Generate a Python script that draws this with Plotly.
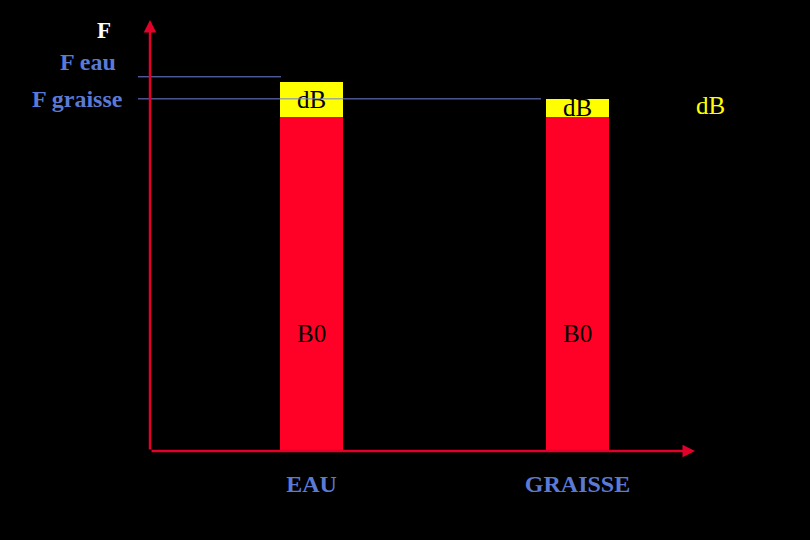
import plotly.graph_objects as go

categories = ["EAU", "GRAISSE"]
b0_values = [10.0, 10.0]
db_values = [1.05, 0.54]
b0_labels = ["B0", "B0"]
db_labels = ["dB", "dB"]
f_names = ["F eau", "F graisse"]
f_levels = [11.2, 10.54]

RED = "#FF0026"
AXIS_RED = "#E3002A"
YELLOW = "#FFFF00"
BLUE = "#5B7AD6"
LINE_BLUE = "#7080D8"
FONT = "Liberation Serif"

x_pos = list(range(len(categories)))

fig = go.Figure()
fig.add_trace(go.Bar(x=x_pos, y=b0_values, marker=dict(color=RED, line=dict(width=0)),
                     width=0.237, hoverinfo="skip"))
fig.add_trace(go.Bar(x=x_pos, y=db_values, marker=dict(color=YELLOW, line=dict(width=0)),
                     width=0.237, text=db_labels, textposition="inside",
                     insidetextanchor="middle", constraintext="none", textangle=0,
                     insidetextfont=dict(family=FONT, size=25, color="black"),
                     hoverinfo="skip"))

xr = [-0.607, 1.4417]
yr = [0, 12.9]

def px2paper(px):
    return (px - 150) / 545.0

# B0 labels
for xi, lab, v in zip(x_pos, b0_labels, b0_values):
    fig.add_annotation(x=xi, y=v * 0.353, text=lab, showarrow=False,
                       font=dict(family=FONT, size=25, color="black"))

# level lines
line_ends = [px2paper(281), px2paper(541)]
for lvl, x1 in zip(f_levels, line_ends):
    fig.add_shape(type="line", xref="paper", yref="y", x0=px2paper(138), x1=x1,
                  y0=lvl, y1=lvl, line=dict(color=LINE_BLUE, width=1))

# left labels
fig.add_annotation(xref="paper", yref="paper", x=px2paper(113), y=(451 - 30) / 431.0,
                   text="<b>F</b>", showarrow=False, xanchor="right", yanchor="middle",
                   font=dict(family=FONT, size=23, color="white"))
fig.add_annotation(xref="paper", yref="y", x=px2paper(118), y=(451 - 62) / 33.4,
                   text="<b>" + f_names[0] + "</b>", showarrow=False, xanchor="right",
                   yanchor="middle", font=dict(family=FONT, size=24, color=BLUE))
fig.add_annotation(xref="paper", yref="y", x=px2paper(125), y=f_levels[1],
                   text="<b>" + f_names[1] + "</b>", showarrow=False, xanchor="right",
                   yanchor="middle", font=dict(family=FONT, size=24, color=BLUE))

# right dB label
fig.add_annotation(xref="paper", yref="paper", x=px2paper(710), y=(451 - 106) / 431.0,
                   text="dB", showarrow=False, xanchor="center", yanchor="middle",
                   font=dict(family=FONT, size=25, color=YELLOW))

# axis arrows
fig.add_annotation(xref="paper", yref="paper", x=0, y=1, ax=0, ay=431,
                   axref="pixel", ayref="pixel", text="", showarrow=True,
                   arrowhead=2, arrowsize=1, arrowwidth=2.5, arrowcolor=AXIS_RED)
fig.add_annotation(xref="paper", yref="paper", x=1, y=0, ax=-545, ay=0,
                   axref="pixel", ayref="pixel", text="", showarrow=True,
                   arrowhead=2, arrowsize=1, arrowwidth=2.5, arrowcolor=AXIS_RED)

fig.update_layout(
    width=810, height=540,
    margin=dict(l=150, r=115, t=20, b=89),
    paper_bgcolor="black", plot_bgcolor="black",
    barmode="stack", showlegend=False,
    xaxis=dict(range=xr, tickvals=x_pos, ticktext=["<b>" + c + "</b>" for c in categories],
               showgrid=False, zeroline=False, showline=False, ticks="",
               tickfont=dict(family=FONT, size=24, color=BLUE), ticklabelstandoff=16),
    yaxis=dict(range=yr, showgrid=False, zeroline=False, showline=False,
               showticklabels=False, ticks=""),
)

fig.write_html("out.html", config={"displayModeBar": False},
               post_script="document.body.style.margin='0';document.body.style.background='black';")
